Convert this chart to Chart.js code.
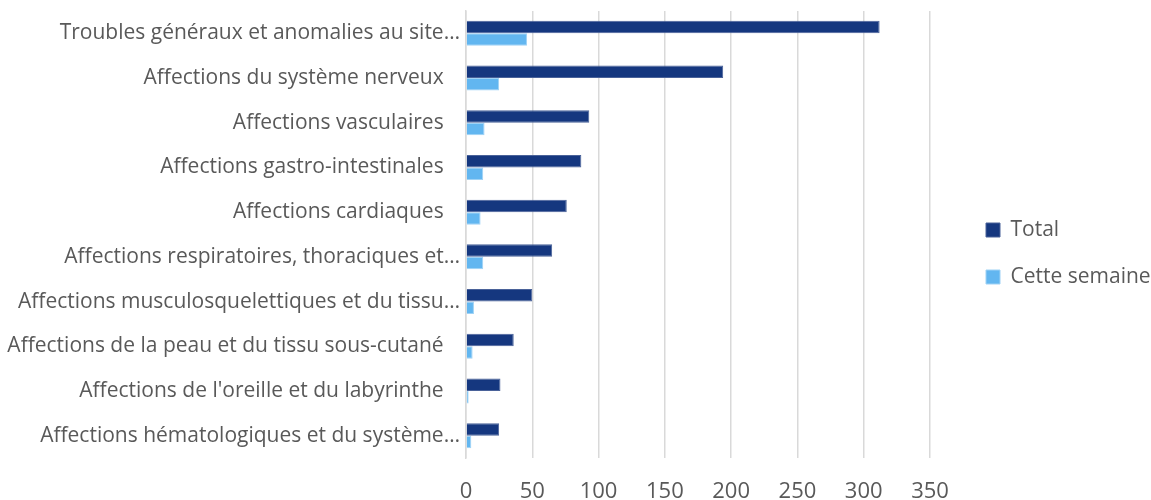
<!DOCTYPE html>
<html>
<head>
<meta charset="utf-8">
<script src="https://cdn.jsdelivr.net/npm/chart.js@4/dist/chart.umd.min.js"></script>
<style>
  html, body { margin: 0; padding: 0; background: #fff; }
</style>
</head>
<body>
<canvas id="bar-chart" width="1151" height="500"></canvas>
<script>
// categories as shown on the axis (long ones cut with an ellipsis)
var categories = [
  "Troubles généraux et anomalies au site…",
  "Affections du système nerveux   ",
  "Affections vasculaires   ",
  "Affections gastro-intestinales   ",
  "Affections cardiaques   ",
  "Affections respiratoires, thoraciques et…",
  "Affections musculosquelettiques et du tissu…",
  "Affections de la peau et du tissu sous-cutané   ",
  "Affections de l'oreille et du labyrinthe   ",
  "Affections hématologiques et du système…"
];
var totalValues = [312, 194, 93, 87, 76, 65, 50, 36, 26, 25];
var weekValues = [46, 25, 14, 13, 11, 13, 6, 5, 2, 4];
var xTicks = [0, 50, 100, 150, 200, 250, 300, 350];

var textColor = "#595959";
var fontName = "'Open Sans', sans-serif";

// plot area edges and legend placement (pixels)
var plotLeft = 466, plotRight = 930, legendX = 986, legendShiftY = -2;

// widen the legend box so the plot stops at plotRight, then move its items
var legendPlace = {
  id: 'legendPlace',
  afterInit: function (chart) {
    var lg = chart.legend;
    var fit = lg.fit;
    lg.fit = function () {
      fit.call(this);
      this.width = chart.width - plotRight;
    };
  },
  afterLayout: function (chart) {
    var lg = chart.legend;
    lg.left = legendX - lg.options.labels.padding;
    lg.top += legendShiftY;
    lg.bottom += legendShiftY;
  }
};

new Chart(document.getElementById("bar-chart"), {
  type: 'bar',
  data: {
    labels: categories,
    datasets: [
      {
        label: "Total",
        backgroundColor: "#15377f",
        borderColor: "#4a6299",
        borderWidth: 1,
        data: totalValues
      },
      {
        label: "Cette semaine",
        backgroundColor: "#62b6f0",
        borderColor: "#9fd2f5",
        borderWidth: 1,
        data: weekValues
      }
    ]
  },
  plugins: [legendPlace],
  options: {
    indexAxis: 'y',
    responsive: false,
    animation: false,
    devicePixelRatio: 1,
    layout: { padding: { top: 11, right: 0, bottom: 0, left: 0 } },
    datasets: {
      bar: { categoryPercentage: 0.56, barPercentage: 1 }
    },
    scales: {
      x: {
        min: 0,
        max: 350,
        afterBuildTicks: function (axis) {
          axis.ticks = xTicks.map(function (v) { return { value: v }; });
        },
        afterFit: function (axis) {
          axis.height = 42;
          axis.paddingLeft = 0;
          axis.paddingRight = 0;
        },
        grid: { color: "#d9d9d9", lineWidth: 1.5, drawTicks: false },
        border: { display: false },
        ticks: {
          color: textColor,
          padding: 21,
          autoSkip: false,
          maxRotation: 0,
          font: { family: fontName, size: 22 }
        }
      },
      y: {
        afterFit: function (axis) {
          axis.width = plotLeft;
          axis.paddingTop = 0;
          axis.paddingBottom = 0;
        },
        grid: { display: false, drawTicks: false },
        border: { display: true, color: "#d9d9d9", width: 1.5 },
        ticks: {
          color: textColor,
          padding: 6,
          autoSkip: false,
          font: { family: fontName, size: 21 }
        }
      }
    },
    plugins: {
      tooltip: { enabled: false },
      legend: {
        position: 'right',
        labels: {
          color: textColor,
          boxWidth: 14,
          boxHeight: 14,
          padding: 26,
          font: { family: fontName, size: 21 }
        }
      }
    }
  }
});
</script>
</body>
</html>
